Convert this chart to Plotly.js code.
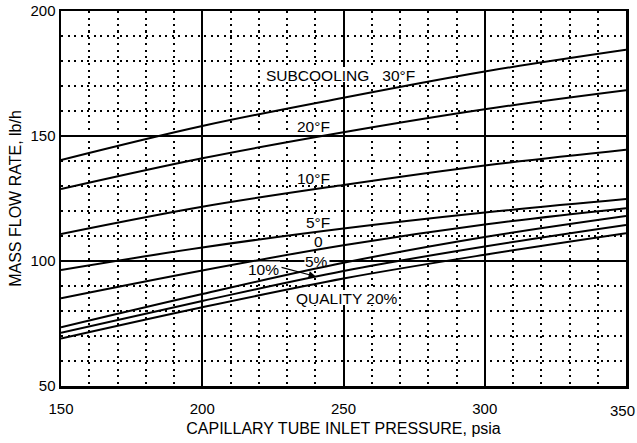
<!DOCTYPE html>
<html>
<head>
<meta charset="utf-8">
<script src="https://cdn.plot.ly/plotly-3.0.1.min.js"></script>
<style>html,body{margin:0;padding:0;background:#fff;}#chart{width:637px;height:443px;}</style>
</head>
<body>
<div id="chart"></div>
<script>
// Inlet pressure (psia)
var pressure = [150, 200, 250, 300, 350];
// Mass flow rate (lb/h) for each condition
var subcool30 = [140.4, 154.0, 165.3, 175.8, 184.5];
var subcool20 = [128.8, 141.1, 151.5, 160.7, 168.3];
var subcool10 = [110.8, 121.7, 130.4, 138.2, 144.5];
var subcool5  = [96.4, 105.4, 113.0, 119.4, 124.8];
var subcool0  = [85.1, 96.2, 106.3, 114.6, 121.1];
var quality5  = [73.5, 86.8, 99.3, 109.6, 118.0];
var quality10 = [71.3, 84.0, 96.0, 105.8, 114.4];
var quality20 = [69.0, 81.5, 93.0, 102.5, 111.1];

// Tick labels
var xTicks = [150, 200, 250, 300, 350];
var yTicks = [50, 100, 150, 200];

// Curve labels
var labelTexts = ['SUBCOOLING&nbsp;&nbsp;&nbsp;30°F', '20°F', '10°F', '5°F', '0', '5%', '10%', 'QUALITY 20%'];

var seriesList = [subcool30, subcool20, subcool10, subcool5, subcool0, quality5, quality10, quality20];
var seriesNames = ['SUBCOOLING 30°F', '20°F', '10°F', '5°F', '0', '5%', '10%', 'QUALITY 20%'];

var traces = seriesList.map(function (ys, i) {
  return {
    x: pressure, y: ys, name: seriesNames[i], type: 'scatter', mode: 'lines',
    line: {color: '#000', width: 2, shape: 'spline', smoothing: 1},
    hoverinfo: 'skip', showlegend: false
  };
});

var fam = 'Liberation Sans, Arial, sans-serif';
var labelSize = 15.5;
// label placement (axis units) and mask width (px)
var labelPos = [
  {x: 248.9, y: 174.4, w: 152},
  {x: 239.4, y: 153.8, w: 35},
  {x: 239.4, y: 133.2, w: 35},
  {x: 241.0, y: 115.3, w: 26},
  {x: 241.0, y: 107.7, w: 10},
  {x: 240.6, y: 100.0, w: 25},
  {x: 221.7, y: 96.6, w: 33},
  {x: 251.1, y: 85.2, w: 104}
];

var annotations = [];
var shapes = [];
labelTexts.forEach(function (t, i) {
  var p = labelPos[i];
  annotations.push({text: t, x: p.x, y: p.y, xref: 'x', yref: 'y', showarrow: false,
    font: {family: fam, size: labelSize, color: '#000'}});
  // white mask between the grid and the curves so the grid does not run through the text
  shapes.push({type: 'rect', layer: 'between', xref: 'x', yref: 'y',
    xsizemode: 'pixel', ysizemode: 'pixel', xanchor: p.x, yanchor: p.y,
    x0: -p.w / 2, x1: p.w / 2, y0: -7, y1: 8,
    fillcolor: '#fff', line: {width: 0}});
});

// The last x tick label sits at the very edge of the page: draw it right-aligned
var lastX = xTicks[xTicks.length - 1];
annotations.push({text: String(lastX), x: lastX, y: 0, xref: 'x', yref: 'paper', xanchor: 'right', yanchor: 'top',
  xshift: 11, yshift: -14, showarrow: false, font: {family: fam, size: 15, color: '#000'}});

// arrow from the "10%" label to its curve
var fullW = 637 - 61 - 11, fullH = 443 - 11 - 57;
var headX = 240.2, headY = 93.8;
var headPx = {x: 61 + (headX - 150) / 200 * fullW, y: 11 + (200 - headY) / 150 * fullH};
annotations.push({x: headX, y: headY, xref: 'x', yref: 'y', ax: 280 - headPx.x, ay: 267 - headPx.y,
  text: '', showarrow: true, arrowhead: 2, arrowsize: 1.2, arrowwidth: 1.2, arrowcolor: '#000'});

var layout = {
  width: 637, height: 443,
  margin: {l: 61, r: 11, t: 11, b: 57},
  paper_bgcolor: '#fff', plot_bgcolor: '#fff',
  font: {family: fam, color: '#000', size: 15},
  showlegend: false,
  xaxis: {
    range: [150, 350], tickmode: 'array',
    tickvals: xTicks.slice(0, -1), ticktext: xTicks.slice(0, -1).map(String),
    showgrid: true, gridcolor: '#000', gridwidth: 2,
    minor: {tickmode: 'linear', tick0: 150, dtick: 10, showgrid: true, gridcolor: '#000', gridwidth: 2, griddash: '2px,4.5px', ticks: ''},
    showline: true, linecolor: '#000', linewidth: 2.5, mirror: true,
    ticks: '', zeroline: false, automargin: false,
    ticklabelstandoff: 7,
    tickfont: {size: 15},
    title: {text: 'CAPILLARY TUBE INLET PRESSURE, psia', font: {size: 16}, standoff: 8}
  },
  yaxis: {
    range: [50, 200], tickmode: 'array', tickvals: yTicks, ticktext: yTicks.map(String),
    showgrid: true, gridcolor: '#000', gridwidth: 2,
    minor: {tickmode: 'linear', tick0: 50, dtick: 10, showgrid: true, gridcolor: '#000', gridwidth: 2, griddash: '2px,4.5px', ticks: ''},
    showline: true, linecolor: '#000', linewidth: 2.5, mirror: true,
    ticks: '', zeroline: false, automargin: false,
    ticklabeloverflow: 'allow',
    tickfont: {size: 15},
    title: {text: 'MASS FLOW RATE, lb/h', font: {size: 16}, standoff: 5}
  },
  annotations: annotations,
  shapes: shapes
};

Plotly.newPlot('chart', traces, layout, {staticPlot: true});
</script>
</body>
</html>
